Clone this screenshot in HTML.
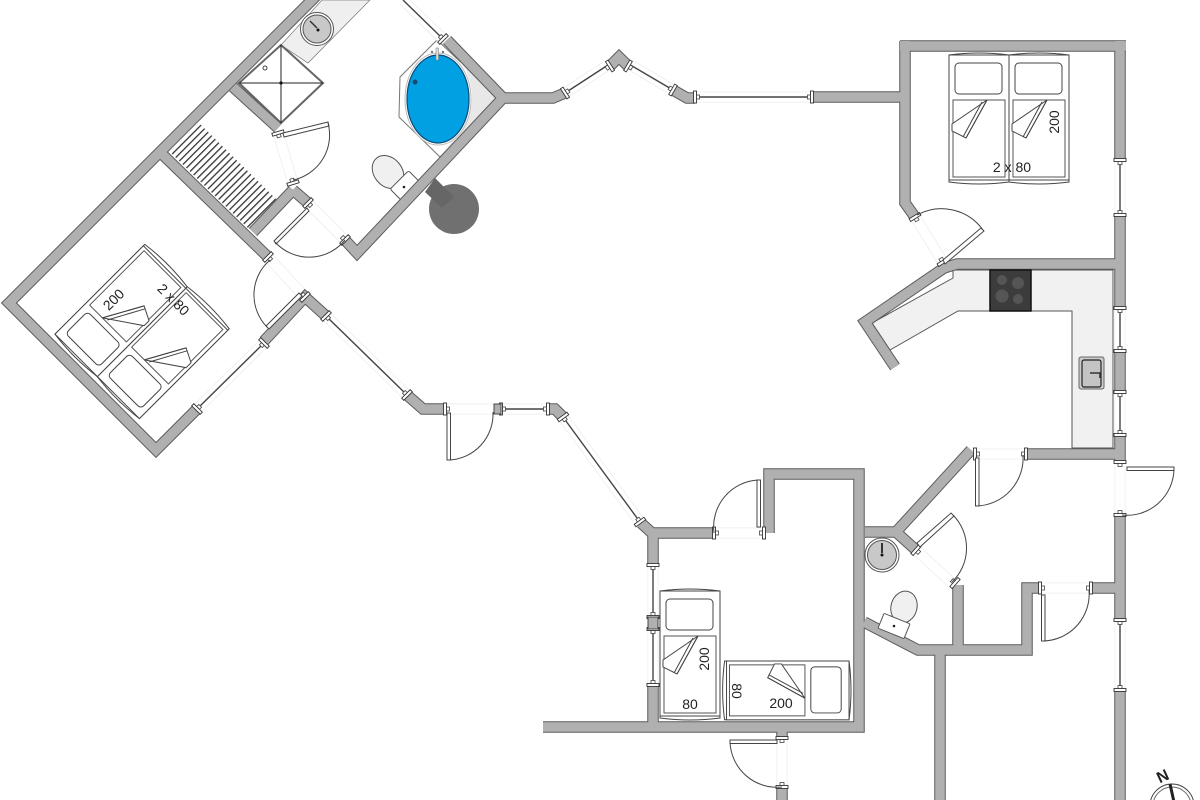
<!DOCTYPE html>
<html><head><meta charset="utf-8"><style>
html,body{margin:0;padding:0;background:#fff}
svg{display:block}
text{font-family:"Liberation Sans",sans-serif;fill:#222;font-size:14px;text-anchor:middle}
.leaf{fill:#fff;stroke:#444;stroke-width:1}
.arc{fill:none;stroke:#444;stroke-width:1}
</style></head><body>
<svg width="1200" height="800" viewBox="0 0 1200 800" xmlns="http://www.w3.org/2000/svg">
<defs>
<pattern id="st" width="5" height="5" patternUnits="userSpaceOnUse" patternTransform="rotate(45)">
<rect width="5" height="5" fill="#fff"/><rect x="0" width="1.3" height="5" fill="#333"/>
</pattern>
<g id="cap">
<rect x="-2" y="1" width="4" height="3.500" fill="#fff" stroke="#444" stroke-width=".8"/>
<rect x="-6" y="-1.500" width="12" height="3" fill="#fff" stroke="#333" stroke-width=".9"/>
</g>
<g id="walls" fill="none">
<path d="M316,-4L9,303L156,450L197,409"/>
<path d="M264,341L305,297L326,316"/>
<path d="M407,395L423,409L445,409"/>
<path d="M548,409H555L563,417"/>
<path d="M641,523L652,533L714,533"/>
<path d="M653,533V565"/>
<path d="M653,685V727"/>
<path d="M543,727H859V474H769V533"/>
<path d="M865,532H896L971,450"/>
<path d="M896,532L916,550"/>
<path d="M958,585V650"/>
<path d="M864,622L918,650H1027V588H1040"/>
<path d="M1027,454H1120"/>
<path d="M1091,588H1120"/>
<path d="M1120,41V160M1120,215V308M1120,351V392M1120,435V462M1120,515V620M1120,690V800"/>
<path d="M940,650V800"/>
<path d="M782,787V800M782,727V738"/>
<path d="M900,46H1126M905,41V203L915,217"/>
<path d="M812,97H905"/>
<path d="M1120,264H957L944,268L865,322L895,367"/>
<path d="M447,40L503,98L357,253L345,240"/>
<path d="M503,98H553L565,93"/>
<path d="M610,66L619,57L628,66"/>
<path d="M673,90L687,98H695"/>
<path d="M163,155L268,257"/>
<path d="M233,87L278,128"/>
<path d="M293,190L308,203"/>
<path d="M293,190L253,232"/>
</g>
<g id="wins" fill="none">
<path d="M197,409L264,343"/><path d="M326,316L407,395"/>
<path d="M497,409H548"/><path d="M563,417L640,522"/>
<path d="M565,93L608,65"/><path d="M627,63L673,90"/>
<path d="M695,97H810"/><path d="M403,0L442,38"/>
<path d="M1120,160V215M1120,308V351M1120,392V435"/>
<path d="M1120,620V690"/><path d="M653,565V618M653,628V685"/>
</g>
<g id="gaps" fill="none">
<path d="M278,133L293,183"/><path d="M308,203L345,240"/><path d="M268,257L305,297"/>
<path d="M445,409H497"/><path d="M915,217L943,262"/><path d="M714,533H763"/>
<path d="M975,454H1025"/><path d="M1120,462V515"/><path d="M916,550L952,583"/>
<path d="M1040,588H1091"/><path d="M782,738V787"/>
</g>
<g id="bed">
<path d="M0,2Q30,-2 60,2V129Q30,133 0,129Z" fill="#fff" stroke="#444"/>
<rect x="0" y="2" width="60" height="125" fill="#fff" stroke="#444"/>
<rect x="6" y="10" width="47" height="31" rx="4" fill="#fff" stroke="#444"/>
<path d="M4,47H56V124H4Z" fill="#fff" stroke="#555"/>
<path d="M38,47L3,71V78L17,85Z" fill="#fff" stroke="#444"/>
<path d="M38,47L17,85M33,49L14,84" fill="none" stroke="#444"/>
</g>
</defs>
<rect width="1200" height="800" fill="#fff"/>

<!-- counters -->
<polygon points="322,0 370,0 308,63 281,45" fill="#efefef" stroke="#777" stroke-width=".7"/>
<polygon points="953,270 1113,270 1113,448 1072,448 1072,311 958,311 890,350 872,323 953,278" fill="#f1f1f1" stroke="#555"/>
<!-- stairs -->
<polygon points="199,123 277,200 248,228 170,152" fill="url(#st)"/>
<!-- shower -->
<polygon points="281,45 323,83 281,123 239,83" fill="#fff" stroke="#666" stroke-width="2"/>
<path d="M281,45V123M239,83H323" stroke="#222" stroke-width="1" fill="none"/>
<circle cx="281" cy="83" r="1.6" fill="#111"/>
<circle cx="265" cy="68" r="2" fill="#fff" stroke="#444"/>
<!-- wash basin top -->
<circle cx="317" cy="29" r="16.5" fill="#fff" stroke="#555"/>
<circle cx="317" cy="29" r="14" fill="#c8c8c8" stroke="#555"/>
<path d="M310,21L317,28" stroke="#333" stroke-width="1.5"/><circle cx="318" cy="30" r="1.5" fill="#111"/>
<!-- bath -->
<polygon points="437,40 400,77 399,117 440,157 499,98" fill="#fff" stroke="#777"/>
<path d="M466,70Q478,100 466,122L440,157L499,98L446,43Z" fill="#e8e8e8"/>
<ellipse cx="438" cy="99" rx="33" ry="46" fill="#fff" stroke="#bbb"/>
<ellipse cx="438" cy="99" rx="31" ry="44" fill="#00a0e3" stroke="#0a4a78" stroke-width="1.2"/>
<circle cx="415" cy="82" r="2.5" fill="#124a73"/>
<rect x="436" y="48" width="2.5" height="12" fill="#ddd" stroke="#777" stroke-width=".5"/>
<circle cx="432" cy="52" r="1.2" fill="#777"/><circle cx="443" cy="52" r="1.2" fill="#777"/>
<!-- chimney -->
<circle cx="454" cy="209" r="25" fill="#707070"/>
<polygon points="435,178 454,197 442,208 425,192" fill="#666"/>
<!-- toilet 1 -->
<ellipse cx="388" cy="172" rx="14" ry="18" transform="rotate(-40 388 172)" fill="#f0f0f0" stroke="#555"/>
<rect x="393" y="178" width="26" height="17" rx="2" transform="rotate(-45 405 187)" fill="#fff" stroke="#555"/>
<circle cx="404" cy="187" r="1.3" fill="#222"/>

<!-- gap & window lines -->
<use href="#gaps" stroke="#ececec" stroke-width="11"/>
<use href="#gaps" stroke="#fff" stroke-width="9.500"/>
<use href="#wins" stroke="#ececec" stroke-width="11"/>
<use href="#wins" stroke="#fff" stroke-width="9.500"/>
<use href="#wins" stroke="#444" stroke-width="1.400"/>

<!-- walls -->
<use href="#walls" stroke="#5c5c5c" stroke-width="11.500"/>
<use href="#walls" stroke="#b0b0b0" stroke-width="9.500"/>

<!-- window and door jamb caps -->
<g>
<use href="#cap" transform="translate(1120,160)"/><use href="#cap" transform="translate(1120,215) rotate(180)"/>
<use href="#cap" transform="translate(1120,308)"/><use href="#cap" transform="translate(1120,351) rotate(180)"/>
<use href="#cap" transform="translate(1120,392)"/><use href="#cap" transform="translate(1120,435) rotate(180)"/>
<use href="#cap" transform="translate(1120,620)"/><use href="#cap" transform="translate(1120,690) rotate(180)"/>
<use href="#cap" transform="translate(653,565)"/><use href="#cap" transform="translate(653,617) rotate(180)"/>
<use href="#cap" transform="translate(653,629)"/><use href="#cap" transform="translate(653,685) rotate(180)"/>
<use href="#cap" transform="translate(197,409) rotate(-135)"/><use href="#cap" transform="translate(264,343) rotate(45)"/>
<use href="#cap" transform="translate(326,316) rotate(-45)"/><use href="#cap" transform="translate(407,395) rotate(135)"/>
<use href="#cap" transform="translate(501,409) rotate(-90)"/><use href="#cap" transform="translate(548,409) rotate(90)"/>
<use href="#cap" transform="translate(563,417) rotate(-36)"/><use href="#cap" transform="translate(640,522) rotate(144)"/>
<use href="#cap" transform="translate(565,93) rotate(-123)"/><use href="#cap" transform="translate(610,66) rotate(57)"/>
<use href="#cap" transform="translate(628,66) rotate(-60)"/><use href="#cap" transform="translate(673,90) rotate(120)"/>
<use href="#cap" transform="translate(695,97) rotate(-90)"/><use href="#cap" transform="translate(812,97) rotate(90)"/>
<use href="#cap" transform="translate(443,39) rotate(135)"/>
<use href="#cap" transform="translate(278,133) rotate(-17)"/><use href="#cap" transform="translate(293,183) rotate(163)"/>
<use href="#cap" transform="translate(308,203) rotate(-45)"/><use href="#cap" transform="translate(345,240) rotate(135)"/>
<use href="#cap" transform="translate(268,257) rotate(-45)"/><use href="#cap" transform="translate(305,297) rotate(135)"/>
<use href="#cap" transform="translate(445,409) rotate(-90)"/>
<use href="#cap" transform="translate(915,217) rotate(-32)"/><use href="#cap" transform="translate(943,262) rotate(148)"/>
<use href="#cap" transform="translate(714,533) rotate(-90)"/><use href="#cap" transform="translate(764,533) rotate(90)"/>
<use href="#cap" transform="translate(975,454) rotate(-90)"/><use href="#cap" transform="translate(1026,454) rotate(90)"/>
<use href="#cap" transform="translate(1120,462)"/><use href="#cap" transform="translate(1120,515) rotate(180)"/>
<use href="#cap" transform="translate(916,550) rotate(-48)"/><use href="#cap" transform="translate(955,583) rotate(132)"/>
<use href="#cap" transform="translate(1040,588) rotate(-90)"/><use href="#cap" transform="translate(1091,588) rotate(90)"/>
<use href="#cap" transform="translate(782,738)"/><use href="#cap" transform="translate(782,787) rotate(180)"/>
</g>
<!-- piers -->
<rect x="494" y="404" width="7" height="10" fill="#b0b0b0" stroke="#444"/>
<rect x="648" y="617" width="10" height="12" fill="#b0b0b0" stroke="#444"/>

<!-- hob -->
<rect x="990" y="270" width="41" height="41" fill="#3c3c3c" stroke="#111" stroke-width="1.5"/>
<circle cx="1002" cy="280" r="5" fill="#555"/><circle cx="1018" cy="283" r="6" fill="#555"/>
<circle cx="1002" cy="296" r="6.500" fill="#555"/><circle cx="1018" cy="299" r="5" fill="#555"/>
<!-- sink -->
<rect x="1079" y="357" width="25" height="32" rx="2" fill="#ccc" stroke="#666"/>
<rect x="1082" y="360" width="19" height="27" rx="2" fill="#c4c4c4" stroke="#222" stroke-width="1.2"/>
<path d="M1090,373H1100V378" stroke="#333" stroke-width="1.6" fill="none"/>

<!-- lower wash basin -->
<ellipse cx="882" cy="555" rx="17" ry="17" fill="#fff" stroke="#555"/>
<ellipse cx="882" cy="555" rx="14.500" ry="14.500" fill="#c8c8c8" stroke="#555"/>
<path d="M882,543V553" stroke="#333" stroke-width="2"/><circle cx="882" cy="555" r="1.500" fill="#111"/>
<!-- lower toilet -->
<ellipse cx="904" cy="607" rx="13" ry="16" transform="rotate(15 904 607)" fill="#f0f0f0" stroke="#555"/>
<rect x="880" y="618" width="28" height="16" rx="1" transform="rotate(22 894 626)" fill="#fff" stroke="#555"/>
<circle cx="894" cy="626" r="1.300" fill="#222"/>

<!-- doors -->
<g>
<polygon class="leaf" points="283,133 328,122 329,126 284,137"/><path class="arc" d="M328,123A46,46 0 0 1 293,180"/>
<polygon class="leaf" points="307,208 309,211 276,244 274,241"/><path class="arc" d="M275,242A46,46 0 0 0 345,240"/>
<polygon class="leaf" points="299,293 302,296 269,329 266,326"/><path class="arc" d="M267,327A46,46 0 0 1 270,260"/>
<rect class="leaf" x="447" y="413" width="3.500" height="47"/><path class="arc" d="M449,460A46,46 0 0 0 493,412"/>
<polygon class="leaf" points="943,260 981,228 984,231 945,264"/><path class="arc" d="M983,230A51,51 0 0 0 917,215"/>
<rect class="leaf" x="757" y="480" width="3.500" height="47"/><path class="arc" d="M758,480A47,47 0 0 0 714,533"/>
<rect class="leaf" x="975.500" y="458" width="3.500" height="48"/><path class="arc" d="M977,506A48,48 0 0 0 1023,455"/>
<rect class="leaf" x="1127" y="467" width="47" height="3.500"/><path class="arc" d="M1174,469A47,47 0 0 1 1122,515"/>
<polygon class="leaf" points="917,543 951,513 954,516 920,547"/><path class="arc" d="M953,515A47,47 0 0 1 952,582"/>
<rect class="leaf" x="1041.500" y="595" width="3.500" height="46"/><path class="arc" d="M1043,641A47,47 0 0 0 1089,590"/>
<rect class="leaf" x="730" y="740" width="47" height="3.500"/><path class="arc" d="M730,742A47,47 0 0 0 782,787"/>
</g>

<!-- beds -->
<use href="#bed" transform="translate(949,53)"/>
<use href="#bed" transform="translate(1009,53)"/>
<use href="#bed" transform="translate(138,420) rotate(-135)"/>
<use href="#bed" transform="translate(96,378) rotate(-135)"/>
<use href="#bed" transform="translate(660,589)"/>
<use href="#bed" transform="translate(851,661) scale(.98,.98) rotate(90)"/>

<!-- labels -->
<text x="1012" y="172">2 x 80</text>
<text transform="translate(1059,122) rotate(-90)">200</text>
<text transform="translate(117,303) rotate(-45)">200</text>
<text transform="translate(170,303) rotate(45)">2 x 80</text>
<text transform="translate(709,659) rotate(-90)">200</text>
<text x="690" y="709">80</text>
<text x="781" y="708">200</text>
<text transform="translate(732,691) rotate(90)">80</text>

<!-- compass -->
<circle cx="1172" cy="806" r="22" fill="#fff" stroke="#444"/>
<circle cx="1172" cy="806" r="19" fill="none" stroke="#666"/>
<path d="M1170,784L1174,802" stroke="#222" stroke-width="3" fill="none"/>
<text transform="translate(1165,781) rotate(-25)" style="font-size:16px;font-weight:bold">N</text>
</svg>
</body></html>
